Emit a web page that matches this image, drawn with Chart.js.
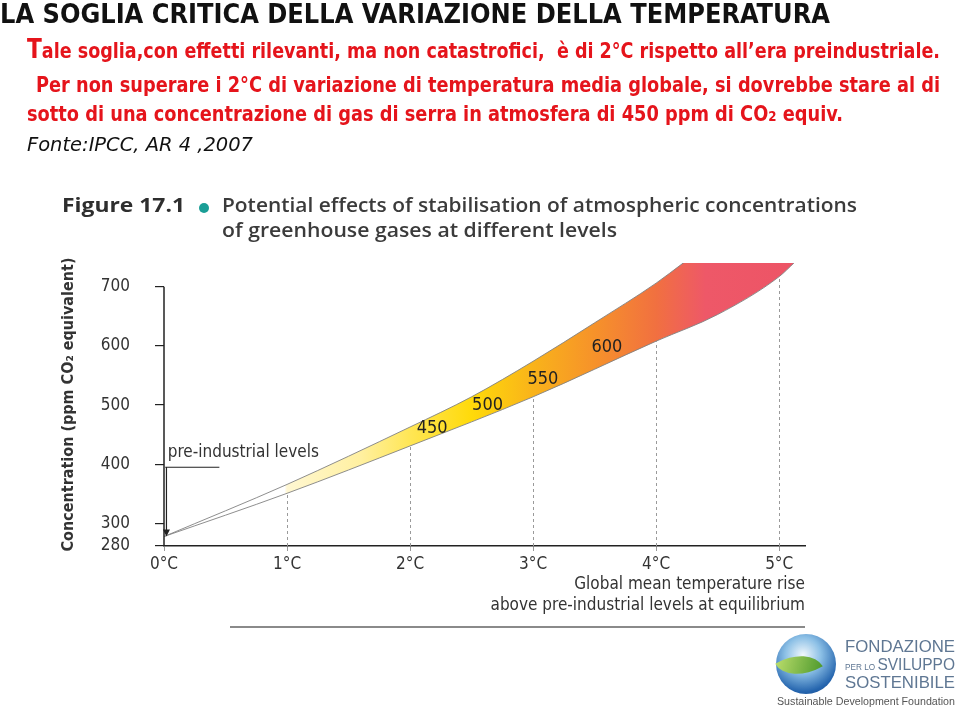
<!DOCTYPE html>
<html>
<head>
<meta charset="utf-8">
<script src="https://cdn.jsdelivr.net/npm/chart.js@4.4.0/dist/chart.umd.min.js"></script>
<style>
html, body { margin: 0; padding: 0; background: #fff; }
body { width: 960px; height: 711px; position: relative; overflow: hidden; }
#chart { position: absolute; left: 0; top: 0; }
.t { position: absolute; white-space: nowrap; display: inline-block; line-height: 1; transform-origin: 0 0; }
.narrow { font-family: 'Liberation Sans Narrow', 'DejaVu Sans Condensed', 'Liberation Sans', sans-serif; }
.red { color: #e5141b; font-weight: bold; font-size: 21px; }
.fig { font-family: 'Open Sans', 'DejaVu Sans', sans-serif; color: #3b3b3b; font-weight: 600; font-size: 19px; }
.logo { font-family: 'Liberation Sans', sans-serif; color: #5f7793; }
</style>
</head>
<body>
<canvas id="chart" width="960" height="711"></canvas>

<div class="t narrow" style="left:0;top:0;font-size:27px;font-weight:bold;color:#111" data-w="830">LA SOGLIA CRITICA DELLA VARIAZIONE DELLA TEMPERATURA</div>
<div class="t narrow red" style="left:27px;top:36px" data-w="913"><span style="font-size:26px">T</span>ale soglia,con effetti rilevanti, ma non catastrofici,&nbsp; è di 2°C rispetto all’era preindustriale.</div>
<div class="t narrow red" style="left:36px;top:75px" data-w="904">Per non superare i 2°C di variazione di temperatura media globale, si dovrebbe stare al di</div>
<div class="t narrow red" style="left:27px;top:104px" data-w="816">sotto di una concentrazione di gas di serra in atmosfera di 450 ppm di CO<span style="font-size:14px">2</span> equiv.</div>
<div class="t narrow" style="left:27px;top:135px;font-size:19px;font-style:italic;color:#111" data-w="226">Fonte:IPCC, AR 4 ,2007</div>

<div class="t fig" style="left:62px;top:196px;font-weight:bold;color:#2e2e2e" data-w="123">Figure 17.1</div>
<div style="position:absolute;left:199px;top:203px;width:10px;height:10px;border-radius:50%;background:#1a9e96"></div>
<div class="t fig" style="left:222px;top:196px" data-w="635">Potential effects of stabilisation of atmospheric concentrations</div>
<div class="t fig" style="left:222px;top:221px" data-w="395">of greenhouse gases at different levels</div>

<div style="position:absolute;left:230px;top:626px;width:575px;height:2px;background:#8a8a8a"></div>

<div style="position:absolute;left:776px;top:634px;width:60px;height:60px;border-radius:50%;background:radial-gradient(circle at 45% 35%, #f2f8fc 0%, #8cc0e6 35%, #2565ae 72%, #153f7c 100%)"></div>
<div style="position:absolute;left:779px;top:652px;width:40px;height:26px;border-radius:0 100% 0 100%;transform:rotate(-30deg);background:linear-gradient(135deg,#b9dc6a,#4f9a2e)"></div>
<div class="t logo" style="left:845px;top:638px;font-size:17px" data-w="110">FONDAZIONE</div>
<div class="t logo" style="left:845px;top:656px;font-size:17px" data-w="110"><span style="font-size:9px">PER LO </span>SVILUPPO</div>
<div class="t logo" style="left:845px;top:674px;font-size:17px" data-w="110">SOSTENIBILE</div>
<div class="t" style="left:777px;top:697px;font-size:10px;font-family:'Liberation Sans',sans-serif;color:#555" data-w="178">Sustainable Development Foundation</div>

<script>
// degrees of warming (x) and concentration in ppm CO2-eq (y)
const lowerTemp = [0, 1, 2, 3, 4, 4.5, 5, 5.12];
const lowerPpm  = [278, 351, 431, 514, 608, 653, 717, 740];
// upper edge runs out of the top of the figure, the band is cut there
const upperTemp = [0, 1, 2, 2.5, 3, 3.5, 4, 4.22, 4.6, 5.12];
const upperPpm  = [278, 366, 463, 514, 574, 639, 706, 740, 800, 885];

const yTicks = [280, 300, 400, 500, 600, 700];
const xTicks = [0, 1, 2, 3, 4, 5];

const bandLabels = ['450', '500', '550', '600'];
const bandLabelTemp = [2.18, 2.63, 3.08, 3.60];
const bandLabelPpm  = [461, 500, 544, 598];

const Y_MIN = 262;   // axis is broken below 300 in the original
const Y_MAX = 740;
const X_MAX = 5.21;

const narrow = "'Liberation Sans Narrow', 'DejaVu Sans Condensed', 'Liberation Sans', sans-serif";

// fit the html text lines to the widths in the original
document.querySelectorAll('[data-w]').forEach(el => {
    const w = el.getBoundingClientRect().width;
    el.style.transform = `scaleX(${el.dataset.w / w})`;
});

function bandGradient(context) {
    const chart = context.chart;
    const { ctx, chartArea, scales } = chart;
    if (!chartArea) return 'rgba(0,0,0,0)';
    const x0 = scales.x.getPixelForValue(0);
    const x1 = scales.x.getPixelForValue(5.12);
    const g = ctx.createLinearGradient(x0, 0, x1, 0);
    const stops = [
        [0, '#ffffff'], [0.98, '#ffffff'], [1.0, '#fff7d2'], [1.6, '#fff0a0'],
        [2.0, '#ffe655'], [2.5, '#ffda0a'], [3.0, '#f9b31a'], [3.5, '#f6922a'],
        [4.0, '#f17040'], [4.4, '#ee5868'], [5.12, '#ed5466']
    ];
    stops.forEach(([v, c]) => g.addColorStop(v / 5.12, c));
    return g;
}

const extras = {
    id: 'extras',
    beforeDatasetsDraw(chart) {
        const { ctx, scales: { y } } = chart;
        const lower = chart.getDatasetMeta(0).data;
        ctx.save();
        ctx.strokeStyle = '#9a9a9a';
        ctx.lineWidth = 1;
        ctx.setLineDash([3, 3]);
        lowerTemp.forEach((t, i) => {
            if (!xTicks.includes(t) || t === 0) return;
            const px = Math.round(lower[i].x) + 0.5;
            ctx.beginPath();
            ctx.moveTo(px, y.getPixelForValue(Y_MIN));
            ctx.lineTo(px, lower[i].y);
            ctx.stroke();
        });
        ctx.restore();
    },
    afterDatasetsDraw(chart) {
        const { ctx, scales: { x, y } } = chart;
        ctx.save();

        // y axis line, only up to 700
        const ax = x.getPixelForValue(0);
        ctx.strokeStyle = '#222';
        ctx.lineWidth = 1.5;
        ctx.beginPath();
        ctx.moveTo(ax, y.getPixelForValue(Y_MIN));
        ctx.lineTo(ax, y.getPixelForValue(700));
        ctx.stroke();

        // concentration labels inside the band
        ctx.fillStyle = '#222';
        ctx.font = `18px ${narrow}`;
        ctx.textAlign = 'center';
        ctx.textBaseline = 'middle';
        bandLabels.forEach((s, i) => {
            ctx.fillText(s, x.getPixelForValue(bandLabelTemp[i]), y.getPixelForValue(bandLabelPpm[i]));
        });

        // pre-industrial marker
        const lx = x.getPixelForValue(0.02);
        const ly = y.getPixelForValue(395);
        const tip = y.getPixelForValue(278);
        ctx.strokeStyle = '#222';
        ctx.lineWidth = 1.2;
        ctx.beginPath();
        ctx.moveTo(x.getPixelForValue(0.01), ly);
        ctx.lineTo(x.getPixelForValue(0.45), ly);
        ctx.moveTo(lx, ly);
        ctx.lineTo(lx, tip - 6);
        ctx.stroke();
        ctx.beginPath();
        ctx.moveTo(lx - 3.5, tip - 7);
        ctx.lineTo(lx + 3.5, tip - 7);
        ctx.lineTo(lx, tip);
        ctx.closePath();
        ctx.fill();
        ctx.textAlign = 'left';
        ctx.font = `17px ${narrow}`;
        ctx.fillStyle = '#333';
        ctx.fillText('pre-industrial levels', x.getPixelForValue(0.03), y.getPixelForValue(419));
        ctx.restore();
    }
};

new Chart(document.getElementById('chart'), {
    type: 'line',
    data: {
        datasets: [{
            label: 'lower',
            data: lowerTemp.map((t, i) => ({ x: t, y: lowerPpm[i] })),
            borderColor: 'rgba(130,130,130,0.9)',
            borderWidth: 1,
            pointRadius: 0,
            fill: false,
            cubicInterpolationMode: 'monotone'
        }, {
            label: 'upper',
            data: upperTemp.map((t, i) => ({ x: t, y: upperPpm[i] })),
            borderColor: 'rgba(130,130,130,0.9)',
            borderWidth: 1,
            pointRadius: 0,
            fill: '-1',
            backgroundColor: bandGradient,
            cubicInterpolationMode: 'monotone'
        }]
    },
    options: {
        responsive: false,
        animation: false,
        layout: { padding: { left: 50, right: 155, top: 263, bottom: 90 } },
        plugins: { legend: { display: false }, tooltip: { enabled: false } },
        scales: {
            x: {
                type: 'linear',
                min: 0,
                max: X_MAX,
                afterBuildTicks: scale => { scale.ticks = xTicks.map(v => ({ value: v })); },
                afterFit: scale => { scale.height = 75; scale.paddingLeft = 0; scale.paddingRight = 0; },
                border: { color: '#222', width: 1.5 },
                grid: { drawOnChartArea: false, tickLength: 5, color: '#999' },
                ticks: {
                    padding: 3,
                    color: '#333',
                    font: { family: narrow, size: 17 },
                    callback: v => `${v}°C`
                },
                title: {
                    display: true,
                    align: 'end',
                    text: ['Global mean temperature rise', 'above pre-industrial levels at equilibrium'],
                    color: '#333',
                    font: { family: narrow, size: 17, lineHeight: 1.25 },
                    padding: { top: 0, bottom: 5 }
                }
            },
            y: {
                type: 'linear',
                min: Y_MIN,
                max: Y_MAX,
                afterBuildTicks: scale => { scale.ticks = yTicks.map(v => ({ value: v === 280 ? Y_MIN : v })); },
                afterFit: scale => { scale.width = 114; scale.paddingTop = 0; scale.paddingBottom = 0; },
                border: { display: false },
                grid: { drawOnChartArea: false, tickLength: 9, color: '#222', lineWidth: 1.2 },
                ticks: {
                    padding: 25,
                    color: '#333',
                    font: { family: narrow, size: 17 },
                    callback: v => (v === Y_MIN ? '280' : v)
                },
                title: {
                    display: true,
                    text: 'Concentration (ppm CO₂ equivalent)',
                    color: '#333',
                    font: { family: narrow, size: 16, weight: 'bold' },
                    padding: { top: 9, bottom: 0 }
                }
            }
        }
    },
    plugins: [extras]
});
</script>
</body>
</html>
